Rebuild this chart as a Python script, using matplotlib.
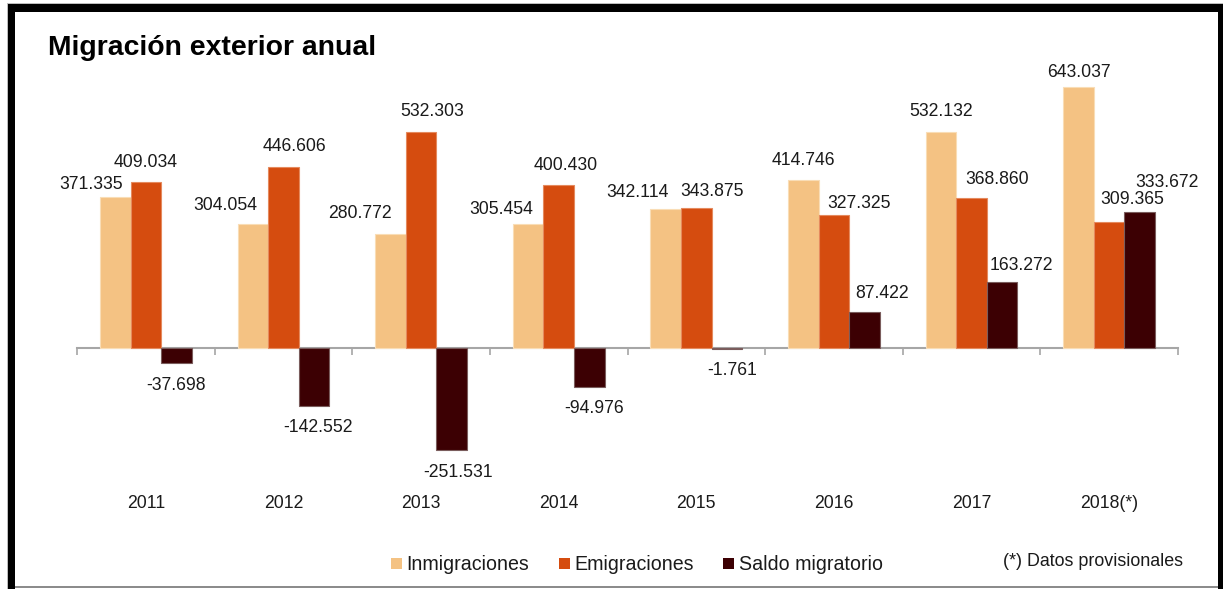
import matplotlib
matplotlib.use("Agg")
import matplotlib.pyplot as plt
import matplotlib.transforms as mtransforms
from matplotlib.patches import Rectangle, Patch
import numpy as np

# --- data ---------------------------------------------------------------
years = ["2011", "2012", "2013", "2014", "2015", "2016", "2017", "2018(*)"]
inmigraciones = [371335, 304054, 280772, 305454, 342114, 414746, 532132, 643037]
emigraciones = [409034, 446606, 532303, 400430, 343875, 327325, 368860, 309365]
saldo_migratorio = [-37698, -142552, -251531, -94976, -1761, 87422, 163272, 333672]
series_names = ["Inmigraciones", "Emigraciones", "Saldo migratorio"]

# --- style --------------------------------------------------------------
colors = ["#F4C283", "#D54C0F", "#3C0003"]
edges = ["#F9DDB6", "#E58A5E", "#7A5C5C"]
# label offsets (pixels) from the end of each bar
label_offsets = [
    [(-24, 13), (-28, 19), (-31, 20), (-27, 14), (-28, 17), (0, 19), (0, 20), (0, 14)],
    [(0, 19), (11, 20), (11, 20), (7, 20), (16, 17), (25, 12), (26, 19), (23, 23)],
    [(0, -22), (4, -22), (6, -22), (5, -22), (5, -22), (18, 19), (19, 16), (27, 30)],
]

plt.rcParams["font.family"] = ["Liberation Sans", "DejaVu Sans"]
TEXT = "#1A1A1A"

W, H = 1223, 589
fig = plt.figure(figsize=(W / 100, H / 100), dpi=100)
fig.patch.set_facecolor("white")


def fx(px):
    return px / W


def fy(py):
    return 1 - py / H


ax_top, ax_bot = 70, 470
ax = fig.add_axes([fx(77), fy(ax_bot), fx(1178) - fx(77), (ax_bot - ax_top) / H])

px_per_unit = 0.4062 / 1000
ax.set_ylim(-(ax_bot - 348) / px_per_unit, (348 - ax_top) / px_per_unit)
ax.set_xlim(-0.5, len(years) - 0.5)

x = np.arange(len(years))
w = 0.2222
all_series = [inmigraciones, emigraciones, saldo_migratorio]
for k, vals in enumerate(all_series):
    xs = x + (k - 1) * w
    ax.bar(xs, vals, width=w, color=colors[k], edgecolor=edges[k],
           linewidth=0.8, zorder=2)
    for i, v in enumerate(vals):
        dx, dy = label_offsets[k][i]
        txt = f"{v:,}".replace(",", ".")
        ax.annotate(txt, (xs[i], v), xytext=(dx, dy), textcoords="offset pixels",
                    ha="center", va="center", fontsize=12.7, color=TEXT, zorder=3)

# axis at zero with category separators
for s in ["top", "right", "left"]:
    ax.spines[s].set_visible(False)
ax.spines["bottom"].set_position(("data", 0))
ax.spines["bottom"].set_color("#A6A6A6")
ax.spines["bottom"].set_linewidth(1.5)
ax.spines["bottom"].set_zorder(1)
ax.set_yticks([])
ax.set_xticks(np.arange(-0.5, len(years), 1.0))
ax.set_xticklabels([])
ax.tick_params(axis="x", direction="out", length=5, width=1.2, color="#A6A6A6")
ax.patch.set_visible(False)

trans = mtransforms.blended_transform_factory(ax.transData, ax.transAxes)
for i, yr in enumerate(years):
    ax.text(i, (ax_bot - 504) / (ax_bot - ax_top), yr, transform=trans,
            ha="center", va="center", fontsize=12.7, color=TEXT)

# title
fig.text(fx(48), fy(55), "Migración exterior anual", fontsize=20.4,
         fontweight="bold", color="black", ha="left", va="baseline")

# legend
handles = [Patch(facecolor=c, edgecolor="none") for c in colors]
fig.legend(handles, series_names, loc="center left",
           bbox_to_anchor=(fx(391), fy(565)), ncol=3, frameon=False,
           fontsize=14.1, handlelength=0.55, handleheight=0.55,
           handletextpad=0.25, columnspacing=1.5, borderpad=0,
           borderaxespad=0, labelcolor=TEXT)

fig.text(fx(1003), fy(561), "(*) Datos provisionales", fontsize=12.9,
         color=TEXT, ha="left", va="center")

# frame around the chart
def rect(x0, y0, x1, y1, color):
    fig.add_artist(Rectangle((fx(x0), fy(y1)), fx(x1) - fx(x0), (y1 - y0) / H,
                             transform=fig.transFigure, facecolor=color,
                             edgecolor="none", zorder=10))

rect(7, 3, 1223, 4, "#BDBDBD")
rect(7, 3, 8, 589, "#BDBDBD")
rect(8, 4, 15, 589, "black")
rect(8, 4, 1223, 12, "black")
rect(1218, 4, 1223, 589, "black")
rect(15, 586, 1218, 588, "#8C8C8C")

fig.savefig("out.png", dpi=100, facecolor="white")
